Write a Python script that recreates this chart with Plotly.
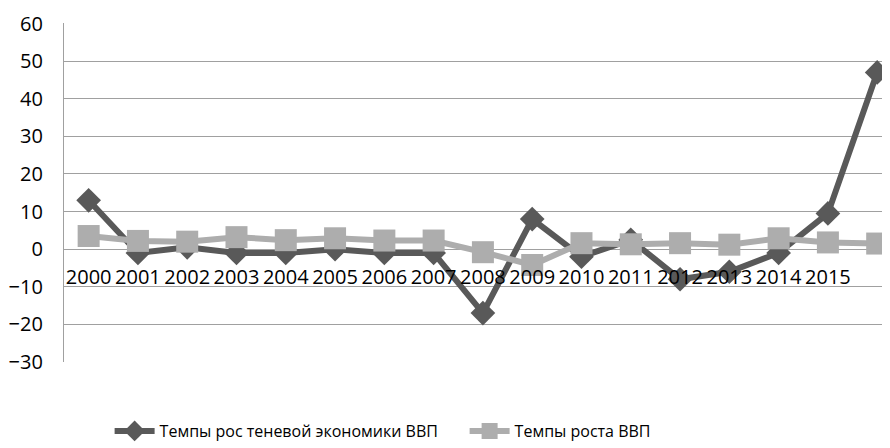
import plotly.graph_objects as go

categories = ["2000", "2001", "2002", "2003", "2004", "2005", "2006", "2007", "2008",
              "2009", "2010", "2011", "2012", "2013", "2014", "2015", " "]
shadow_growth = [13, -1, 0.5, -1, -1, 0, -1, -1, -17, 8, -2, 2.5, -8, -6, -1, 9.5, 47]
gdp_growth = [3.5, 2.2, 2, 3.2, 2.4, 2.9, 2.3, 2.3, -0.8, -4.2, 1.6, 1.3, 1.6, 1.2, 2.9, 1.8, 1.5]
series_names = ["Темпы рос теневой экономики ВВП", "Темпы роста ВВП"]
y_ticks = [-30, -20, -10, 0, 10, 20, 30, 40, 50, 60]

FONT = "Open Sans"
x_idx = list(range(len(categories)))

fig = go.Figure()
fig.add_trace(go.Scatter(
    x=x_idx, y=shadow_growth, name=series_names[0], mode="lines+markers",
    line=dict(color="#595959", width=6),
    marker=dict(symbol="diamond", size=19, color="#595959"),
))
fig.add_trace(go.Scatter(
    x=x_idx, y=gdp_growth, name=series_names[1], mode="lines+markers",
    line=dict(color="#adadad", width=6),
    marker=dict(symbol="square", size=22, color="#adadad"),
))

fig.update_layout(
    width=882, height=440,
    margin=dict(l=56, r=0, t=15, b=83),
    paper_bgcolor="white", plot_bgcolor="white",
    font=dict(family=FONT, color="#000000"),
    showlegend=True,
    legend=dict(orientation="h", x=0.485, xanchor="center", y=-0.205, yanchor="middle",
                font=dict(family=FONT, size=16, color="#000"), entrywidth=300,
                itemwidth=40, traceorder="normal"),
    xaxis=dict(
        tickmode="array", tickvals=x_idx, ticktext=categories,
        range=[-0.5, 16.26], showgrid=False, zeroline=False, showline=False,
        anchor="free", position=1/3, ticks="",
        tickfont=dict(family=FONT, size=20, color="#000"),
        tickangle=0, ticklabelstandoff=14,
    ),
    yaxis=dict(
        range=[-30, 60.15], tickvals=y_ticks, showgrid=True, gridcolor="#a0a0a0", gridwidth=1.3,
        zeroline=True, zerolinecolor="#a0a0a0", zerolinewidth=1.3,
        showline=True, linecolor="#a0a0a0", linewidth=1.3,
        tickfont=dict(family=FONT, size=20, color="#000"), ticklabelstandoff=16,
    ),
)

fig.write_html("out.html")
